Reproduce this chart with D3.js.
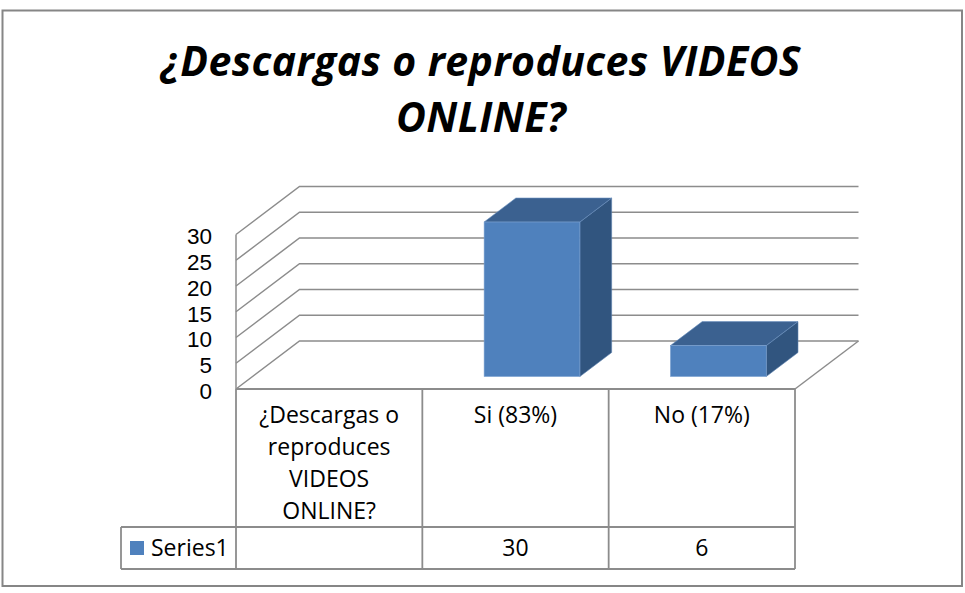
<!DOCTYPE html>
<html>
<head>
<meta charset="utf-8">
<script src="https://cdn.jsdelivr.net/npm/d3@7"></script>
<style>
  html, body { margin: 0; padding: 0; background: #ffffff; }
  svg { display: block; }
  text { font-family: "Open Sans", "Noto Sans", sans-serif; fill: #000; }
</style>
</head>
<body>
<div id="chart"></div>
<script>
// ---- data ----
const titleLines = ["¿Descargas o reproduces VIDEOS", "ONLINE?"];
const categories = ["¿Descargas o reproduces VIDEOS ONLINE?", "Si (83%)", "No (17%)"];
const values = [null, 30, 6];
const seriesName = "Series1";
const yTicks = [0, 5, 10, 15, 20, 25, 30];

// ---- layout ----
const W = 965, H = 593;
const svg = d3.select("#chart").append("svg").attr("width", W).attr("height", H);

svg.append("rect").attr("x", 2.5).attr("y", 10.5).attr("width", 959.5).attr("height", 575.5)
  .attr("fill", "#fff").attr("stroke", "#868686").attr("stroke-width", 2);

// title
const title = svg.append("text").attr("text-anchor", "middle")
  .style("font-size", "41px").style("font-weight", "bold").style("font-style", "italic")
  .style("letter-spacing", "0.4px");
titleLines.forEach((t, i) => {
  title.append("tspan").attr("x", 481).attr("y", 76 + i * 56).text(t);
});

const x0 = 236, x1 = 795;
const D = { x: 63.5, y: -48 };
const y = d3.scaleLinear().domain([0, 30]).range([389, 234.5]);
const xb = d3.scaleBand().domain(categories).range([x0, x1]);
const bw = xb.bandwidth();
const gridColor = "#8c8c8c";

// gridlines (side wall + back wall)
const g = svg.append("g");
yTicks.forEach(v => {
  const yf = y(v);
  g.append("path")
    .attr("d", `M${x0},${yf}L${x0 + D.x},${yf + D.y}L${x1 + D.x},${yf + D.y}`)
    .attr("fill", "none").attr("stroke", gridColor).attr("stroke-width", 1.5);
});
// floor right edge
g.append("line").attr("x1", x1).attr("y1", y(0)).attr("x2", x1 + D.x).attr("y2", y(0) + D.y)
  .attr("stroke", gridColor).attr("stroke-width", 1.5);
// front axis line
g.append("line").attr("x1", x0).attr("y1", y(30)).attr("x2", x0).attr("y2", y(0))
  .attr("stroke", gridColor).attr("stroke-width", 1.5);

// y tick labels
svg.append("g").selectAll("text").data(yTicks).join("text")
  .attr("x", 212).attr("y", d => y(d) + 2).attr("dy", "0.35em")
  .attr("text-anchor", "end")
  .style("font-family", "'Liberation Sans', Arial, sans-serif")
  .style("font-size", "22.5px").text(d => d);

// bars
const f0 = 0.26, f1 = 0.76, wf = 0.514;
const dd = { x: (f1 - f0) * D.x, y: (f1 - f0) * D.y };
const bars = svg.append("g");
categories.forEach((c, i) => {
  const v = values[i];
  if (v == null) return;
  const bwid = bw * wf;
  const bx = xb(c) + (bw - bwid) / 2 + f0 * D.x;
  const yb = y(0) + f0 * D.y, yt = y(v) + f0 * D.y;
  // side
  bars.append("path")
    .attr("d", `M${bx + bwid},${yt}L${bx + bwid + dd.x},${yt + dd.y}L${bx + bwid + dd.x},${yb + dd.y}L${bx + bwid},${yb}Z`)
    .attr("fill", "#31557f").attr("stroke", "#5a80ad").attr("stroke-width", 0.6);
  // top
  bars.append("path")
    .attr("d", `M${bx},${yt}L${bx + dd.x},${yt + dd.y}L${bx + bwid + dd.x},${yt + dd.y}L${bx + bwid},${yt}Z`)
    .attr("fill", "#3b6190").attr("stroke", "#6a90c0").attr("stroke-width", 0.6);
  // front
  bars.append("rect").attr("x", bx).attr("y", yt).attr("width", bwid).attr("height", yb - yt)
    .attr("fill", "#4f81bd").attr("stroke", "#7aa0d0").attr("stroke-width", 0.6);
});

// data table
const tTop = 389, tMid = 527, tBot = 569, legL = 121;
const tbl = svg.append("g").attr("stroke", gridColor).attr("stroke-width", 1.8);
tbl.append("line").attr("x1", x0).attr("x2", x1).attr("y1", tTop).attr("y2", tTop);
tbl.append("line").attr("x1", legL).attr("x2", x1).attr("y1", tMid).attr("y2", tMid);
tbl.append("line").attr("x1", legL).attr("x2", x1).attr("y1", tBot).attr("y2", tBot);
tbl.append("line").attr("x1", legL).attr("x2", legL).attr("y1", tMid).attr("y2", tBot);
categories.forEach(c => {
  tbl.append("line").attr("x1", xb(c)).attr("x2", xb(c)).attr("y1", tTop).attr("y2", tBot);
});
tbl.append("line").attr("x1", x1).attr("x2", x1).attr("y1", tTop).attr("y2", tBot);

// category labels (wrapped)
const labG = svg.append("g");
categories.forEach(c => {
  const t = labG.append("text").attr("text-anchor", "middle").style("font-size", "23px");
  const cx = xb(c) + bw / 2;
  const words = c.split(" ");
  let lines = [], cur = "";
  const probe = svg.append("text").style("font-size", "23px");
  words.forEach(w => {
    const test = cur ? cur + " " + w : w;
    probe.text(test);
    if (probe.node().getComputedTextLength() > 165 && cur) { lines.push(cur); cur = w; }
    else cur = test;
  });
  lines.push(cur);
  probe.remove();
  lines.forEach((l, i) => t.append("tspan").attr("x", cx).attr("y", 423 + i * 32).text(l));
});

// series row
svg.append("rect").attr("x", 130).attr("y", 541).attr("width", 14).attr("height", 14).attr("fill", "#4f81bd");
svg.append("text").attr("x", 151).attr("y", 556).style("font-size", "23px").text(seriesName);
categories.forEach((c, i) => {
  if (values[i] == null) return;
  svg.append("text").attr("x", xb(c) + bw / 2).attr("y", 556).attr("text-anchor", "middle")
    .style("font-size", "23px").text(values[i]);
});
</script>
</body>
</html>
